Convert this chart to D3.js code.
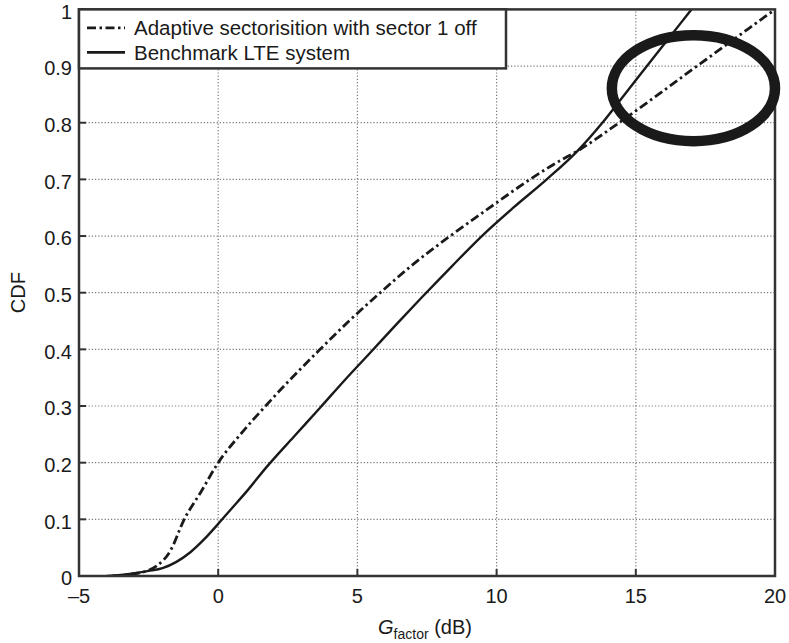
<!DOCTYPE html>
<html>
<head>
<meta charset="utf-8">
<script src="https://cdn.jsdelivr.net/npm/d3@7/dist/d3.min.js"></script>
<style>
  html, body { margin: 0; padding: 0; background: #fff; }
  svg { display: block; font-family: "Liberation Sans", Arial, Helvetica, sans-serif; }
</style>
</head>
<body>
<svg id="chart" width="789" height="643"></svg>
<script>
// Axis ticks
const xTickValues = [-5, 0, 5, 10, 15, 20];
const xTickLabels = ["\u20135", "0", "5", "10", "15", "20"];
const yTickValues = [0, 0.1, 0.2, 0.3, 0.4, 0.5, 0.6, 0.7, 0.8, 0.9, 1];
const yTickLabels = ["0", "0.1", "0.2", "0.3", "0.4", "0.5", "0.6", "0.7", "0.8", "0.9", "1"];

// Series names
const seriesNames = ["Adaptive sectorisition with sector 1 off", "Benchmark LTE system"];

// Adaptive sectorisation (sector 1 off): G_factor (dB) vs CDF
const adaptiveG   = [-3.8, -3.0, -2.5, -2.2, -1.7, -1.25, -0.6, 0, 0.8, 1.7, 2.65, 3.66, 4.7, 5.82, 7.0, 8.33, 9.75, 11.2, 12.0, 13.1, 14.4, 17.2, 20];
const adaptiveCdf = [0, 0.004, 0.01, 0.018, 0.046, 0.097, 0.15, 0.2, 0.25, 0.3, 0.35, 0.4, 0.45, 0.5, 0.55, 0.6, 0.65, 0.7, 0.725, 0.756, 0.8, 0.9, 1.0];

// Benchmark LTE system: G_factor (dB) vs CDF
const benchmarkG   = [-4.0, -3.5, -3.0, -2.5, -2.0, -1.5, -1.0, -0.5, 0, 0.5, 1.0, 1.75, 2.7, 3.66, 4.55, 5.46, 6.4, 7.3, 8.4, 9.47, 10.6, 11.8, 12.9, 13.8, 14.6, 15.4, 16.2, 17.0];
const benchmarkCdf = [0, 0.002, 0.005, 0.009, 0.014, 0.025, 0.042, 0.065, 0.092, 0.12, 0.148, 0.193, 0.245, 0.297, 0.346, 0.394, 0.444, 0.491, 0.547, 0.6, 0.65, 0.7, 0.75, 0.8, 0.85, 0.9, 0.95, 1.0];

// Highlight ellipse around the upper tail (data units)
const highlightCenter = [17.07, 0.861];
const highlightRadius = [2.93, 0.0935];

const svg = d3.select("#chart");
const margin = { left: 79, right: 14, top: 9.4, bottom: 67 };
const W = 789, H = 643;
const x = d3.scaleLinear().domain([-5, 20]).range([margin.left, W - margin.right]);
const y = d3.scaleLinear().domain([0, 1]).range([H - margin.bottom, margin.top]);

const ink = "#1a1a1a";
const frame = "#333";

svg.append("defs").append("clipPath").attr("id", "plotClip")
  .append("rect")
  .attr("x", x(-5)).attr("y", y(1))
  .attr("width", x(20) - x(-5)).attr("height", y(0) - y(1));

// Dotted grid
const grid = svg.append("g");
grid.selectAll("line.vx").data(xTickValues.slice(1, -1)).join("line")
  .attr("x1", d => x(d)).attr("x2", d => x(d))
  .attr("y1", y(0)).attr("y2", y(1))
  .attr("stroke", "#7a7a7a").attr("stroke-width", 1.2).attr("stroke-dasharray", "1.2,2");
grid.selectAll("line.hy").data(yTickValues.slice(1, -1)).join("line")
  .attr("y1", d => y(d)).attr("y2", d => y(d))
  .attr("x1", x(-5)).attr("x2", x(20))
  .attr("stroke", "#7a7a7a").attr("stroke-width", 1.2).attr("stroke-dasharray", "1.2,2");

// Inner tick marks
const ticks = svg.append("g").attr("stroke", frame).attr("stroke-width", 2);
ticks.selectAll("line.bx").data(xTickValues).join("line")
  .attr("x1", d => x(d)).attr("x2", d => x(d))
  .attr("y1", y(0)).attr("y2", y(0) - 7);
ticks.selectAll("line.ly").data(yTickValues).join("line")
  .attr("y1", d => y(d)).attr("y2", d => y(d))
  .attr("x1", x(-5)).attr("x2", x(-5) + 7);

// Curves
const line = d3.line().x(d => x(d[0])).y(d => y(d[1])).curve(d3.curveMonotoneX);
const adaptive = adaptiveG.map((g, i) => [g, adaptiveCdf[i]]);
const benchmark = benchmarkG.map((g, i) => [g, benchmarkCdf[i]]);

const curves = svg.append("g").attr("clip-path", "url(#plotClip)");
curves.append("path").datum(benchmark)
  .attr("d", line).attr("fill", "none")
  .attr("stroke", ink).attr("stroke-width", 2.4);
curves.append("path").datum(adaptive)
  .attr("d", line).attr("fill", "none")
  .attr("stroke", ink).attr("stroke-width", 2.8)
  .attr("stroke-dasharray", "9,3.5,2.5,3.5");

// Axes frame
svg.append("rect")
  .attr("x", x(-5)).attr("y", y(1))
  .attr("width", x(20) - x(-5)).attr("height", y(0) - y(1))
  .attr("fill", "none").attr("stroke", frame).attr("stroke-width", 2.5);

// Tick labels
const fs = 20;
svg.append("g").selectAll("text").data(xTickValues).join("text")
  .attr("x", d => x(d)).attr("y", y(0) + 27)
  .attr("text-anchor", "middle").attr("font-size", fs).attr("fill", ink)
  .text((d, i) => xTickLabels[i]);
svg.append("g").selectAll("text").data(yTickValues).join("text")
  .attr("x", x(-5) - 7).attr("y", d => y(d) + 2).attr("dy", "0.36em")
  .attr("text-anchor", "end").attr("font-size", fs).attr("fill", ink)
  .text((d, i) => yTickLabels[i]);

// Axis titles
const xt = svg.append("text")
  .attr("x", (x(-5) + x(20)) / 2 - 2).attr("y", 634)
  .attr("text-anchor", "middle").attr("font-size", fs).attr("fill", ink);
xt.append("tspan").attr("font-style", "italic").text("G");
xt.append("tspan").attr("font-size", 14).attr("dy", 5).text("factor");
xt.append("tspan").attr("dy", -5).text(" (dB)");

svg.append("text")
  .attr("transform", `translate(25,${(y(0) + y(1)) / 2}) rotate(-90)`)
  .attr("text-anchor", "middle").attr("font-size", fs).attr("fill", ink)
  .text("CDF");

// Legend
const legX0 = x(-5), legY0 = y(1), legW = 427, legH = 59;
const leg = svg.append("g");
leg.append("rect")
  .attr("x", legX0).attr("y", legY0).attr("width", legW).attr("height", legH)
  .attr("fill", "#fff").attr("stroke", frame).attr("stroke-width", 2.5);
const legRows = [
  { name: seriesNames[0], dash: "9,3.5,2.5,3.5", w: 2.8 },
  { name: seriesNames[1], dash: null, w: 2.8 }
];
legRows.forEach((r, i) => {
  const cy = legY0 + 18.5 + i * 24.5;
  leg.append("line")
    .attr("x1", legX0 + 8).attr("x2", legX0 + 46)
    .attr("y1", cy).attr("y2", cy)
    .attr("stroke", ink).attr("stroke-width", r.w)
    .attr("stroke-dasharray", r.dash);
  leg.append("text")
    .attr("x", legX0 + 55).attr("y", cy).attr("dy", "0.35em")
    .attr("font-size", 20.5).attr("fill", ink)
    .text(r.name);
});

// Highlight ellipse
svg.append("ellipse")
  .attr("cx", x(highlightCenter[0])).attr("cy", y(highlightCenter[1]))
  .attr("rx", x(highlightCenter[0] + highlightRadius[0]) - x(highlightCenter[0]))
  .attr("ry", y(highlightCenter[1]) - y(highlightCenter[1] + highlightRadius[1]))
  .attr("fill", "none").attr("stroke", "#1a1a1a").attr("stroke-width", 10.5);
</script>
</body>
</html>
